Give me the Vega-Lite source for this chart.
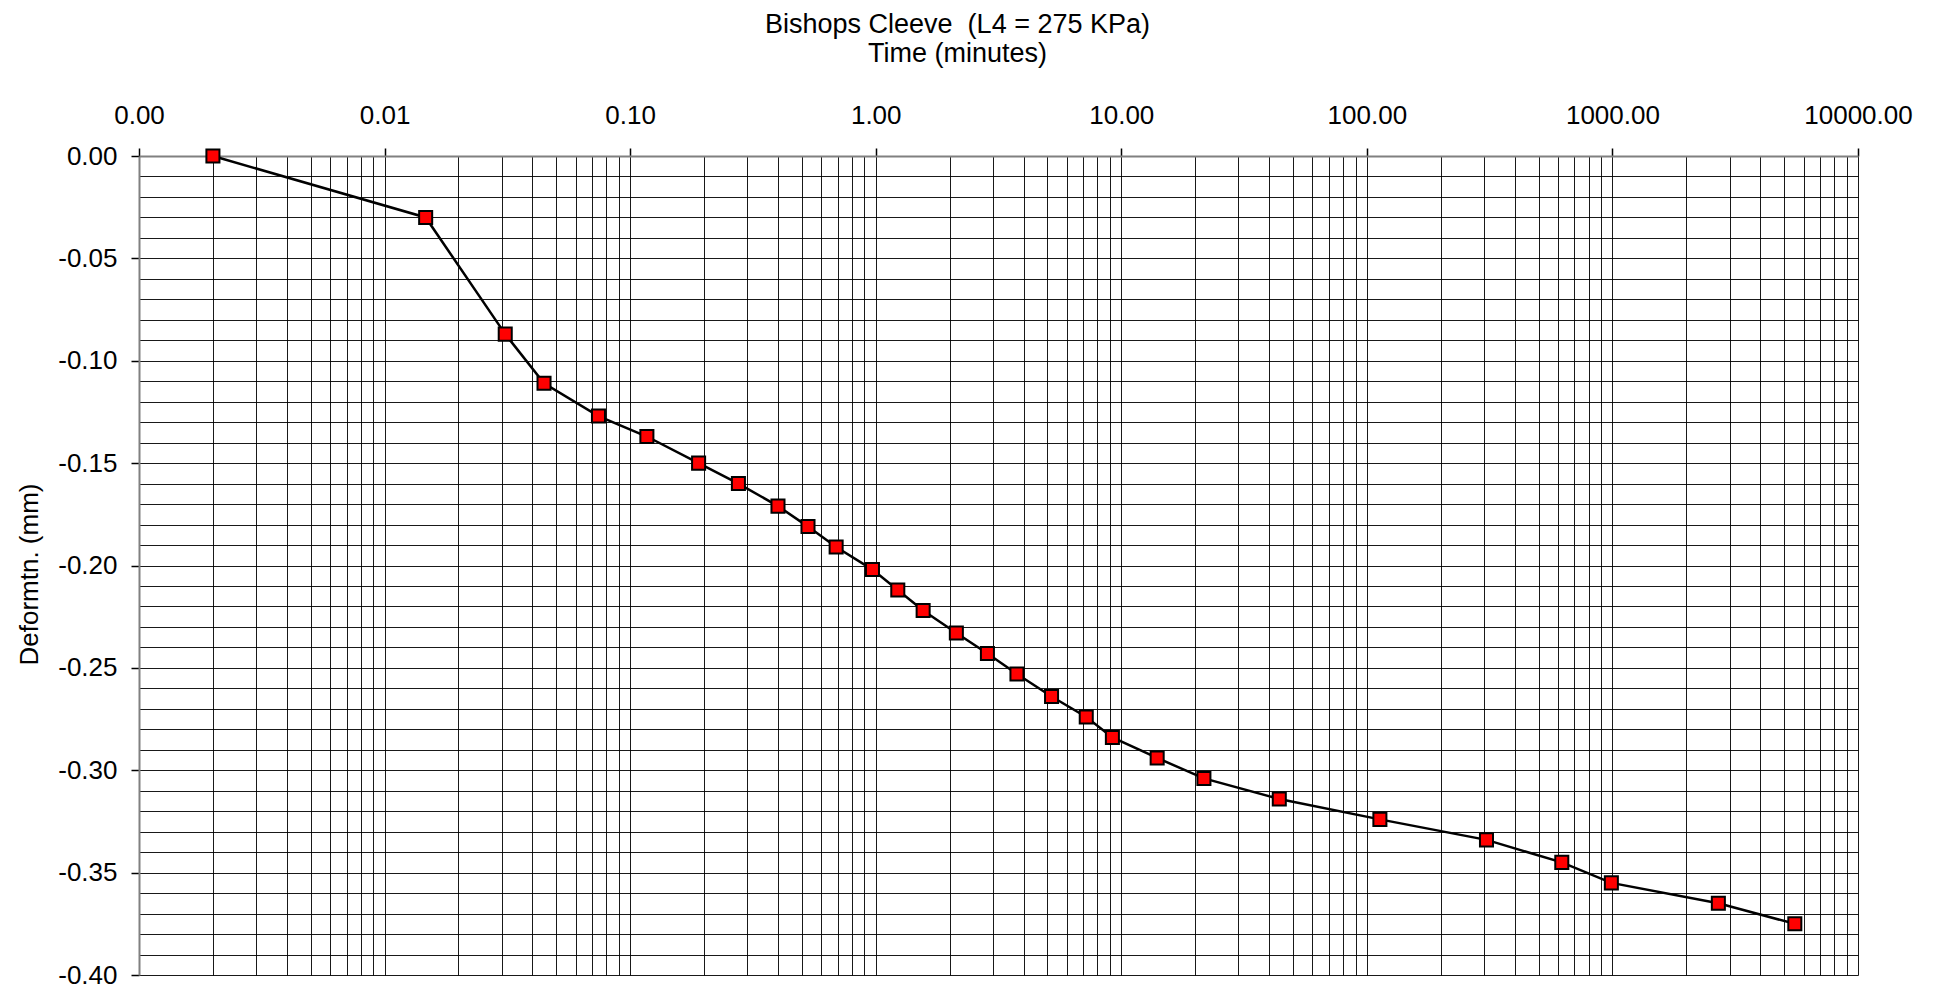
{
  "$schema": "https://vega.github.io/schema/vega-lite/v6.json",
  "width": 1719,
  "height": 819,
  "autosize": {"type": "none"},
  "padding": {"left": 139, "top": 156, "right": 85, "bottom": 15},
  "background": "white",
  "config": {"view": {"stroke": null}, "font": "Liberation Sans"},
  "data": {
    "values": [
      {"time": 0.002, "deformation": 0.0},
      {"time": 0.0147, "deformation": -0.030},
      {"time": 0.031, "deformation": -0.087},
      {"time": 0.0446, "deformation": -0.111},
      {"time": 0.0743, "deformation": -0.127},
      {"time": 0.117, "deformation": -0.137},
      {"time": 0.19, "deformation": -0.150},
      {"time": 0.276, "deformation": -0.160},
      {"time": 0.40, "deformation": -0.171},
      {"time": 0.53, "deformation": -0.181},
      {"time": 0.69, "deformation": -0.191},
      {"time": 0.97, "deformation": -0.202},
      {"time": 1.23, "deformation": -0.212},
      {"time": 1.56, "deformation": -0.222},
      {"time": 2.13, "deformation": -0.233},
      {"time": 2.85, "deformation": -0.243},
      {"time": 3.76, "deformation": -0.253},
      {"time": 5.2, "deformation": -0.264},
      {"time": 7.2, "deformation": -0.274},
      {"time": 9.2, "deformation": -0.284},
      {"time": 14.0, "deformation": -0.294},
      {"time": 21.7, "deformation": -0.304},
      {"time": 44, "deformation": -0.314},
      {"time": 113, "deformation": -0.324},
      {"time": 307, "deformation": -0.334},
      {"time": 622, "deformation": -0.345},
      {"time": 990, "deformation": -0.355},
      {"time": 2700, "deformation": -0.365},
      {"time": 5530, "deformation": -0.375}
    ]
  },
  "encoding": {
    "x": {
      "field": "time",
      "type": "quantitative",
      "scale": {"type": "log", "domain": [0.001, 10000], "nice": false},
      "axis": {
        "orient": "top",
        "values": [0.001,0.002,0.003,0.004,0.005,0.006,0.007,0.008,0.009,
                   0.01,0.02,0.03,0.04,0.05,0.06,0.07,0.08,0.09,
                   0.1,0.2,0.3,0.4,0.5,0.6,0.7,0.8,0.9,
                   1,2,3,4,5,6,7,8,9,
                   10,20,30,40,50,60,70,80,90,
                   100,200,300,400,500,600,700,800,900,
                   1000,2000,3000,4000,5000,6000,7000,8000,9000,10000],
        "labelExpr": "abs(log(datum.value)/LN10 - round(log(datum.value)/LN10)) < 0.001 ? format(datum.value, '.2f') : ''",
        "labelFont": "Liberation Sans",
        "labelFontSize": 26,
        "labelColor": "#000",
        "labelFlush": false,
        "labelOverlap": false,
        "labelBaseline": "alphabetic",
        "labelPadding": 25,
        "tickSize": 8,
        "tickColor": "#000",
        "tickWidth": 1.5,
        "tickOpacity": {"condition": {"test": "abs(log(datum.value)/LN10 - round(log(datum.value)/LN10)) < 0.001", "value": 1}, "value": 0},
        "grid": true,
        "gridColor": "#000",
        "gridWidth": 1,
        "gridOpacity": 0.9,
        "domainColor": "#808080",
        "domainWidth": 2,
        "title": ["Bishops Cleeve \u00a0(L4 = 275 KPa)", "Time (minutes)"],
        "titleFont": "Liberation Sans",
        "titleFontSize": 27,
        "titleFontWeight": "normal",
        "titleColor": "#000",
        "titleX": 818,
        "titleY": -124,
        "titleBaseline": "alphabetic",
        "titleAlign": "center",
        "titleLineHeight": 29.5
      }
    },
    "y": {
      "field": "deformation",
      "type": "quantitative",
      "scale": {"domain": [-0.4, 0], "nice": false, "zero": false},
      "axis": {
        "values": [0,-0.01,-0.02,-0.03,-0.04,-0.05,-0.06,-0.07,-0.08,-0.09,
                   -0.1,-0.11,-0.12,-0.13,-0.14,-0.15,-0.16,-0.17,-0.18,-0.19,
                   -0.2,-0.21,-0.22,-0.23,-0.24,-0.25,-0.26,-0.27,-0.28,-0.29,
                   -0.3,-0.31,-0.32,-0.33,-0.34,-0.35,-0.36,-0.37,-0.38,-0.39,-0.4],
        "labelExpr": "abs(datum.value*20 - round(datum.value*20)) < 0.001 ? replace(format(datum.value, '.2f'), '\u2212', '-') : ''",
        "labelFont": "Liberation Sans",
        "labelFontSize": 26,
        "labelColor": "#000",
        "labelFlush": false,
        "labelOverlap": false,
        "labelPadding": 14,
        "tickSize": 8,
        "tickColor": "#000",
        "tickWidth": 1.5,
        "tickOpacity": {"condition": {"test": "abs(datum.value*20 - round(datum.value*20)) < 0.001", "value": 1}, "value": 0},
        "grid": true,
        "gridColor": "#000",
        "gridWidth": 1,
        "gridOpacity": 0.9,
        "domainColor": "#808080",
        "domainWidth": 2,
        "title": "Deformtn. (mm)",
        "titleFont": "Liberation Sans",
        "titleFontSize": 26,
        "titleFontWeight": "normal",
        "titleColor": "#000",
        "titleAngle": 270,
        "titleX": -102,
        "titleY": 418,
        "titleBaseline": "alphabetic",
        "titleAlign": "center"
      }
    }
  },
  "layer": [
    {"mark": {"type": "line", "color": "#000", "strokeWidth": 2.5}},
    {"mark": {"type": "square", "color": "#ff0000", "fill": "#ff0000", "stroke": "#000", "strokeWidth": 2, "size": 170, "opacity": 1}}
  ]
}
